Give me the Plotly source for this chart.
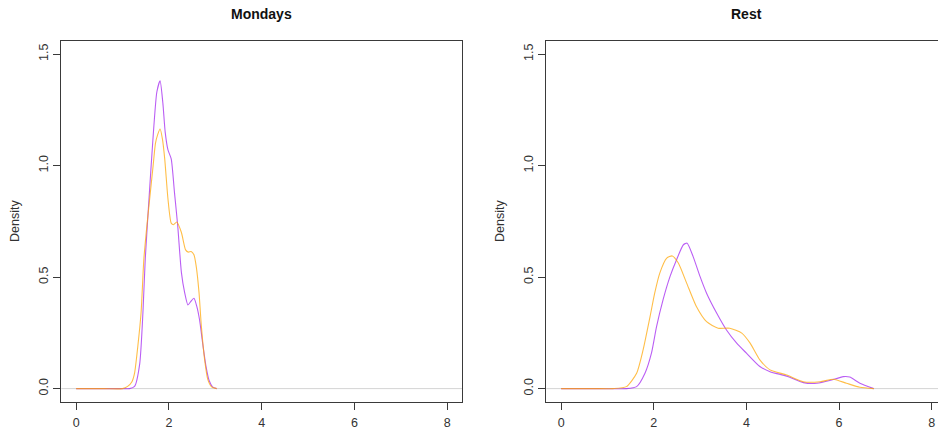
import plotly.graph_objects as go

# ---- data ----
mon_purple_x = [0, 0.6, 1.0, 1.15, 1.26, 1.37, 1.44, 1.49, 1.58, 1.65, 1.74, 1.81, 1.87, 1.92, 1.98, 2.05, 2.12, 2.19, 2.27, 2.34, 2.41, 2.47, 2.54, 2.60, 2.66, 2.73, 2.80, 2.87, 2.94, 3.03]
mon_purple_y = [0, 0, 0, 0.0, 0.01, 0.11, 0.34, 0.58, 0.88, 1.10, 1.33, 1.38, 1.28, 1.15, 1.07, 1.03, 0.88, 0.73, 0.52, 0.43, 0.375, 0.39, 0.405, 0.37, 0.31, 0.20, 0.10, 0.035, 0.008, 0]

mon_orange_x = [0, 0.6, 1.0, 1.11, 1.20, 1.26, 1.33, 1.40, 1.46, 1.53, 1.60, 1.66, 1.71, 1.76, 1.81, 1.86, 1.91, 1.98, 2.05, 2.10, 2.17, 2.27, 2.36, 2.42, 2.48, 2.54, 2.59, 2.65, 2.70, 2.77, 2.84, 2.92, 3.03]
mon_orange_y = [0, 0, 0, 0.01, 0.03, 0.07, 0.19, 0.34, 0.58, 0.74, 0.88, 1.00, 1.10, 1.14, 1.164, 1.12, 1.03, 0.85, 0.742, 0.735, 0.747, 0.70, 0.622, 0.612, 0.615, 0.60, 0.547, 0.43, 0.28, 0.13, 0.04, 0.008, 0]

rest_purple_x = [0, 0.8, 1.41, 1.63, 1.81, 1.95, 2.06, 2.20, 2.35, 2.49, 2.64, 2.72, 2.85, 3.00, 3.14, 3.36, 3.57, 3.79, 4.00, 4.29, 4.51, 4.87, 5.23, 5.52, 5.80, 6.09, 6.23, 6.45, 6.75]
rest_purple_y = [0, 0, 0, 0.009, 0.069, 0.159, 0.278, 0.398, 0.502, 0.577, 0.645, 0.652, 0.592, 0.502, 0.428, 0.338, 0.263, 0.204, 0.159, 0.099, 0.076, 0.056, 0.027, 0.024, 0.036, 0.054, 0.052, 0.024, 0]

rest_orange_x = [0, 0.8, 1.12, 1.41, 1.63, 1.77, 1.92, 2.02, 2.13, 2.28, 2.40, 2.53, 2.71, 2.92, 3.14, 3.39, 3.64, 3.90, 4.08, 4.29, 4.51, 4.87, 5.23, 5.59, 5.88, 6.16, 6.45, 6.75]
rest_orange_y = [0, 0, 0, 0.009, 0.069, 0.174, 0.323, 0.428, 0.518, 0.585, 0.595, 0.563, 0.473, 0.368, 0.30, 0.271, 0.271, 0.249, 0.204, 0.129, 0.084, 0.061, 0.031, 0.031, 0.042, 0.024, 0.006, 0]

x_ticks = [0, 2, 4, 6, 8]
y_ticks = [0.0, 0.5, 1.0, 1.5]
y_tick_text = ["0.0", "0.5", "1.0", "1.5"]
titles = ["Mondays", "Rest"]

PURPLE = "rgba(160,32,240,0.72)"
ORANGE = "rgba(255,165,0,0.72)"
FONT = "Liberation Sans, Arial, sans-serif"
BOX = "#3a3a3a"

fig = go.Figure()

def add(x, y, color, xa, ya):
    fig.add_trace(go.Scatter(x=x, y=y, mode="lines", xaxis=xa, yaxis=ya,
                             line=dict(color=color, width=1.1, shape="spline", smoothing=0.6),
                             showlegend=False, hoverinfo="skip"))

add(mon_purple_x, mon_purple_y, PURPLE, "x", "y")
add(mon_orange_x, mon_orange_y, ORANGE, "x", "y")
add(rest_purple_x, rest_purple_y, PURPLE, "x2", "y2")
add(rest_orange_x, rest_orange_y, ORANGE, "x2", "y2")

W, H = 938, 431
ydom = [(H - 402) / H, (H - 40.7) / H]

xcommon = dict(tickmode="array", tickvals=x_ticks, ticks="outside", ticklen=7, tickcolor=BOX,
               showgrid=False, zeroline=False, showline=True, linecolor=BOX, linewidth=1,
               tickfont=dict(family=FONT, size=12.5, color="#333"), ticklabelstandoff=2)
ycommon = dict(tickmode="array", tickvals=y_ticks, ticktext=y_tick_text, ticks="outside", ticklen=7,
               tickcolor=BOX, showgrid=False, zeroline=False, showline=True, linecolor=BOX, linewidth=1,
               tickangle=-90, tickfont=dict(family=FONT, size=12.5, color="#333"),
               range=[-0.06, 1.56], domain=ydom)

fig.update_layout(
    width=W, height=H, margin=dict(l=0, r=0, t=0, b=0),
    paper_bgcolor="white", plot_bgcolor="white",
    xaxis=dict(xcommon, domain=[61.3 / W, 462 / W], range=[-0.32, 8.32], mirror=True, anchor="y"),
    yaxis=dict(ycommon, mirror=True, anchor="x"),
    xaxis2=dict(xcommon, domain=[546.3 / W, 1.0], range=[-0.32, (W - 561.3) / 46.3 - 0.0], mirror=True, anchor="y2"),
    yaxis2=dict(ycommon, mirror=False, anchor="x2"),
)

# zero lines (gray)
for xr, yr in (("x domain", "y"), ("x2 domain", "y2")):
    fig.add_shape(type="line", xref=xr, yref=yr, x0=0, x1=1, y0=0, y1=0,
                  line=dict(color="#d4d4d4", width=1), layer="below")

# titles and axis labels
centers = [(61.3 + 462) / 2, (546.3 + 946.5) / 2]
for c, t in zip(centers, titles):
    fig.add_annotation(x=c / W, y=1 - 14 / H, xref="paper", yref="paper", text="<b>%s</b>" % t,
                       showarrow=False, font=dict(family=FONT, size=14, color="#111"),
                       xanchor="center", yanchor="middle")
for lx in (15, 500):
    fig.add_annotation(x=lx / W, y=1 - 221 / H, xref="paper", yref="paper", text="Density",
                       textangle=-90, showarrow=False, font=dict(family=FONT, size=12.5, color="#333"),
                       xanchor="center", yanchor="middle")

fig.write_html("out.html")
